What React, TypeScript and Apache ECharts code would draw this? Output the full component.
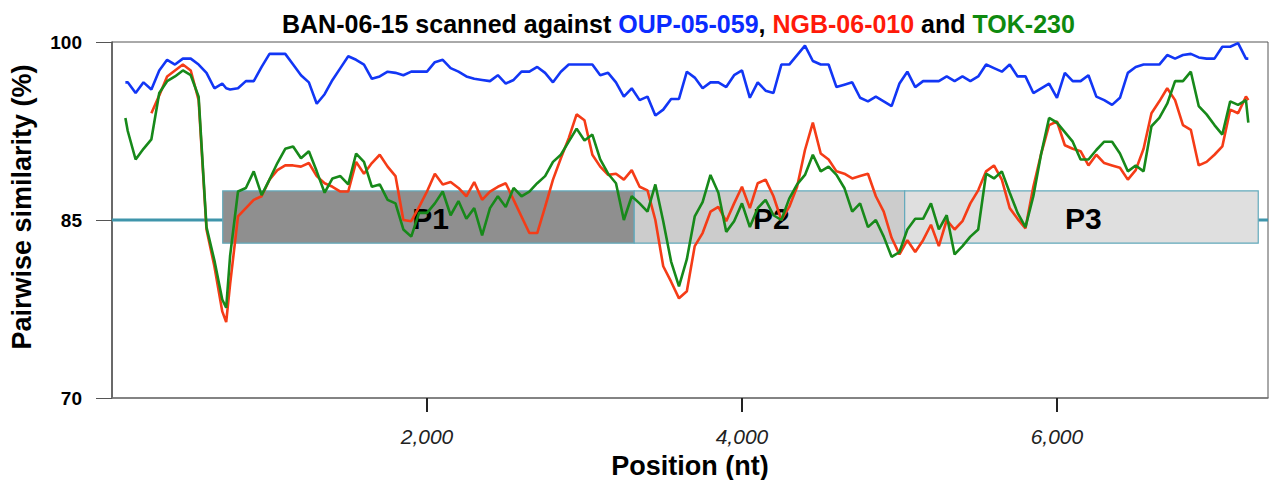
import React, { useEffect, useRef } from "react";
import * as echarts from "echarts";

// Sample positions (nt) shared by the three scans
const positions = [
  85, 100, 150, 200, 250, 300, 350, 400, 450, 500,
  550, 600, 650, 700, 725, 750, 800, 850, 900, 950,
  1000, 1050, 1100, 1150, 1200, 1250, 1300, 1350, 1400, 1450,
  1500, 1550, 1600, 1650, 1700, 1750, 1800, 1850, 1900, 1950,
  2000, 2050, 2100, 2150, 2200, 2250, 2300, 2350, 2400, 2450,
  2500, 2550, 2600, 2650, 2700, 2750, 2800, 2850, 2900, 2950,
  3000, 3050, 3100, 3150, 3200, 3250, 3300, 3350, 3400, 3450,
  3500, 3550, 3600, 3650, 3700, 3750, 3800, 3850, 3900, 3950,
  4000, 4050, 4100, 4150, 4200, 4250, 4300, 4350, 4400, 4450,
  4500, 4550, 4600, 4650, 4700, 4750, 4800, 4850, 4900, 4950,
  5000, 5050, 5100, 5150, 5200, 5250, 5300, 5350, 5400, 5450,
  5500, 5550, 5600, 5650, 5700, 5750, 5800, 5850, 5900, 5950,
  6000, 6050, 6100, 6150, 6200, 6250, 6300, 6350, 6400, 6450,
  6500, 6550, 6600, 6650, 6700, 6750, 6800, 6850, 6900, 6950,
  7000, 7050, 7100, 7150, 7200, 7215,
];

const oupValues = [
  96.6, 96.6, 95.7, 96.6, 96.0, 97.6, 98.5, 98.1, 98.6, 98.6,
  98.1, 97.4, 96.1, 96.5, 96.1, 96.0, 96.1, 96.7, 96.7, 97.9,
  99.0, 99.0, 99.0, 98.1, 97.2, 96.6, 94.8, 95.6, 96.8, 97.8,
  98.8, 98.5, 98.1, 96.9, 97.1, 97.5, 97.4, 97.2, 97.5, 97.5,
  97.5, 98.3, 98.5, 97.8, 97.5, 97.1, 96.9, 96.8, 96.7, 97.2,
  96.5, 96.8, 97.5, 97.5, 97.9, 97.4, 96.6, 97.5, 98.1, 98.1,
  98.1, 98.1, 97.2, 97.4, 96.6, 95.4, 96.1, 95.1, 95.4, 93.8,
  94.3, 95.2, 95.2, 97.5, 97.0, 96.1, 96.6, 96.6, 96.2, 97.2,
  97.6, 95.3, 96.6, 95.9, 95.7, 98.1, 98.1, 98.9, 99.7, 98.4,
  98.1, 98.1, 96.2, 96.4, 96.6, 95.3, 95.0, 95.4, 95.0, 94.6,
  96.5, 97.5, 96.2, 96.7, 96.7, 96.7, 97.1, 96.7, 97.1, 96.7,
  97.1, 98.1, 97.8, 97.5, 98.1, 97.1, 97.1, 95.7, 96.1, 96.5,
  95.3, 97.4, 96.7, 96.7, 97.2, 95.4, 95.1, 94.7, 95.3, 97.4,
  97.9, 98.1, 98.1, 98.1, 98.9, 98.6, 98.9, 99.0, 98.7, 98.6,
  98.6, 99.6, 99.6, 99.9, 98.6, 98.6,
];

const ngbValues = [
  null, null, null, null, 94.0, 95.5, 97.1, 97.6, 98.1, 97.6,
  95.1, 84.2, 81.1, 77.3, 76.4, 79.6, 85.3, 86.0, 86.7, 87.0,
  88.4, 89.2, 89.6, 89.6, 89.5, 89.8, 88.7, 88.1, 87.8, 87.4,
  87.4, 89.9, 88.9, 89.8, 90.5, 89.5, 88.7, 85.0, 84.9, 86.1,
  87.4, 88.9, 88.0, 88.2, 87.7, 87.0, 88.2, 86.7, 87.4, 87.8,
  88.1, 86.7, 85.3, 83.9, 83.9, 86.1, 88.4, 90.2, 91.9, 93.9,
  93.4, 90.5, 89.5, 88.8, 88.9, 88.4, 89.2, 87.8, 87.5, 85.0,
  81.1, 79.8, 78.4, 79.0, 82.8, 83.9, 85.7, 86.1, 84.9, 86.4,
  87.8, 86.0, 88.1, 88.4, 87.0, 85.0, 86.1, 87.8, 90.9, 93.2,
  90.6, 90.1, 89.1, 88.9, 88.5, 88.7, 88.9, 87.0, 85.7, 83.5,
  82.1, 83.3, 82.3, 83.3, 84.6, 82.8, 85.0, 84.2, 84.9, 86.4,
  87.5, 89.1, 89.6, 88.4, 86.0, 85.1, 84.3, 87.8, 90.6, 93.0,
  93.3, 91.3, 91.0, 90.8, 89.6, 90.5, 89.8, 89.6, 89.4, 88.4,
  89.2, 91.0, 94.0, 95.0, 96.1, 95.1, 93.0, 92.6, 89.6, 89.9,
  90.5, 91.2, 94.3, 94.0, 95.4, 95.1,
];

const tokValues = [
  93.6, 92.5, 90.1, 91.0, 91.8, 95.7, 96.7, 97.1, 97.6, 97.2,
  95.4, 84.4, 81.6, 78.3, 77.6, 82.0, 87.4, 87.7, 89.1, 87.1,
  88.4, 89.8, 91.0, 91.2, 90.2, 90.8, 89.1, 87.3, 88.5, 88.7,
  88.0, 90.6, 89.9, 87.8, 88.0, 86.7, 86.4, 84.2, 83.6, 85.6,
  85.6, 86.4, 87.4, 85.4, 86.6, 85.1, 86.0, 83.7, 86.0, 87.0,
  86.1, 87.7, 87.0, 87.4, 88.1, 88.7, 89.9, 90.5, 91.6, 92.7,
  91.7, 92.2, 90.1, 88.9, 88.1, 85.0, 87.0, 86.4, 85.7, 88.0,
  84.9, 81.5, 79.4, 81.7, 85.3, 86.5, 88.8, 87.3, 84.0, 84.9,
  86.4, 84.4, 86.0, 86.7, 85.4, 85.0, 86.8, 88.0, 88.8, 90.5,
  89.1, 89.5, 88.8, 87.7, 85.7, 86.4, 84.4, 85.0, 83.6, 81.9,
  82.3, 84.2, 85.1, 85.1, 86.4, 84.2, 85.4, 82.1, 82.8, 83.6,
  84.2, 88.9, 88.5, 89.1, 87.3, 85.6, 84.4, 87.0, 90.6, 93.6,
  93.2, 92.4, 91.6, 90.1, 90.1, 90.9, 91.6, 91.6, 90.6, 89.1,
  89.6, 89.1, 92.9, 93.6, 94.8, 96.7, 96.7, 97.5, 94.6, 93.9,
  93.0, 92.2, 95.0, 94.7, 95.1, 93.2,
];

const xTicks = [2000, 4000, 6000];
const yMin = 70;
const yMax = 100;
const yStep = 15;
const xMax = 7340;

const zoneNames = ["P1", "P2", "P3"];
const zoneStarts = [703, 3316, 5033];
const zoneEnds = [3316, 5033, 7278];
const zoneLow = 83.05;
const zoneHigh = 87.45;
const referenceLevel = 85;

const FONT = "'Liberation Sans', Arial, sans-serif";
const BLUE = "#1236f5";
const RED = "#f53c17";
const GREEN = "#17891a";

export default function App() {
  const ref = useRef<HTMLDivElement>(null);

  useEffect(() => {
    if (!ref.current) return;
    const chart = echarts.init(ref.current, null, { renderer: "svg" });

    const pair = (vals: (number | null)[]) =>
      positions
        .map((p, i) => [p, vals[i]])
        .filter((d) => d[1] !== null && d[1] !== undefined);

    const zoneData = zoneNames.map((n, i) => [zoneStarts[i], zoneEnds[i], zoneLow, zoneHigh, i]);
    const zoneFill = ["#8f8f8f", "#cccccc", "#dfdfdf"];

    const lineSeries = (name: string, color: string, vals: (number | null)[]) => ({
      name,
      type: "line",
      data: pair(vals),
      showSymbol: false,
      symbol: "none",
      z: 5,
      lineStyle: { color, width: 2.6 },
      itemStyle: { color },
    });

    chart.setOption({
      animation: false,
      backgroundColor: "#ffffff",
      title: {
        text:
          "{a|BAN-06-15 scanned against }{b|OUP-05-059}{a|, }{c|NGB-06-010}{a| and }{d|TOK-230}",
        left: 277,
        top: 6,
        textStyle: {
          rich: {
            a: { fontSize: 25, fontWeight: "bold", color: "#000", fontFamily: FONT },
            b: { fontSize: 25, fontWeight: "bold", color: "#0a2cff", fontFamily: FONT },
            c: { fontSize: 25, fontWeight: "bold", color: "#ff1a0a", fontFamily: FONT },
            d: { fontSize: 25, fontWeight: "bold", color: "#0f8a0f", fontFamily: FONT },
          },
        },
      },
      graphic: [
        {
          type: "text",
          x: 22,
          y: 207,
          rotation: Math.PI / 2,
          style: {
            text: "Pairwise similarity (%)",
            align: "center",
            verticalAlign: "middle",
            fontSize: 27,
            fontWeight: "bold",
            fontFamily: FONT,
            fill: "#000",
          },
        },
      ],
      grid: {
        left: 112,
        right: 4,
        top: 42,
        bottom: 82,
        outerBoundsMode: "none",
        containLabel: false,
        show: true,
        borderColor: "#555",
        borderWidth: 1,
        backgroundColor: "transparent",
      },
      xAxis: {
        type: "value",
        min: 0,
        max: xMax,
        name: "Position (nt)",
        nameLocation: "middle",
        nameGap: 54,
        nameTextStyle: { fontSize: 27, fontWeight: "bold", color: "#000", fontFamily: FONT },
        axisLine: { show: true, lineStyle: { color: "#777", width: 1.5 } },
        axisTick: { show: true, customValues: xTicks, length: 14, lineStyle: { color: "#222", width: 2 } },
        axisLabel: {
          customValues: xTicks,
          formatter: (v: number) => v.toLocaleString("en-US"),
          fontSize: 21,
          fontStyle: "italic",
          color: "#222",
          margin: 28,
          fontFamily: FONT,
        },
        splitLine: { show: false },
      },
      yAxis: {
        type: "value",
        min: yMin,
        max: yMax,
        interval: yStep,
        axisLine: { show: true, lineStyle: { color: "#555", width: 1.5 } },
        axisTick: { show: true, length: 16, lineStyle: { color: "#555", width: 1 } },
        axisLabel: {
          fontSize: 19,
          fontWeight: "bold",
          color: "#000",
          margin: 30,
          fontFamily: FONT,
        },
        splitLine: { show: false },
      },
      series: [
        {
          name: "ref",
          type: "line",
          data: [
            [0, referenceLevel],
            [xMax, referenceLevel],
          ],
          showSymbol: false,
          symbol: "none",
          z: 1,
          lineStyle: { color: "#3f95ab", width: 3 },
          silent: true,
        },
        {
          name: "zones",
          type: "custom",
          z: 2,
          silent: true,
          data: zoneData,
          renderItem: (params: any, api: any) => {
            const idx = api.value(4);
            const p0 = api.coord([api.value(0), api.value(3)]);
            const p1 = api.coord([api.value(1), api.value(2)]);
            return {
              type: "group",
              children: [
                {
                  type: "rect",
                  shape: { x: p0[0], y: p0[1], width: p1[0] - p0[0], height: p1[1] - p0[1] },
                  style: { fill: zoneFill[idx], stroke: "#62a9bb", lineWidth: 1.2 },
                },
                {
                  type: "text",
                  style: {
                    text: zoneNames[idx],
                    x: (p0[0] + p1[0]) / 2 + 2,
                    y: (p0[1] + p1[1]) / 2 + 1,
                    align: "center",
                    verticalAlign: "middle",
                    fontSize: 30,
                    fontWeight: "bold",
                    fontFamily: FONT,
                    fill: "#000",
                  },
                },
              ],
            };
          },
        },
        lineSeries("OUP-05-059", BLUE, oupValues),
        lineSeries("NGB-06-010", RED, ngbValues),
        lineSeries("TOK-230", GREEN, tokValues),
      ],
    });

    return () => chart.dispose();
  }, []);

  return (
    <div
      ref={ref}
      style={{ position: "fixed", left: 0, top: 0, width: 1272, height: 480, background: "#fff" }}
    />
  );
}
